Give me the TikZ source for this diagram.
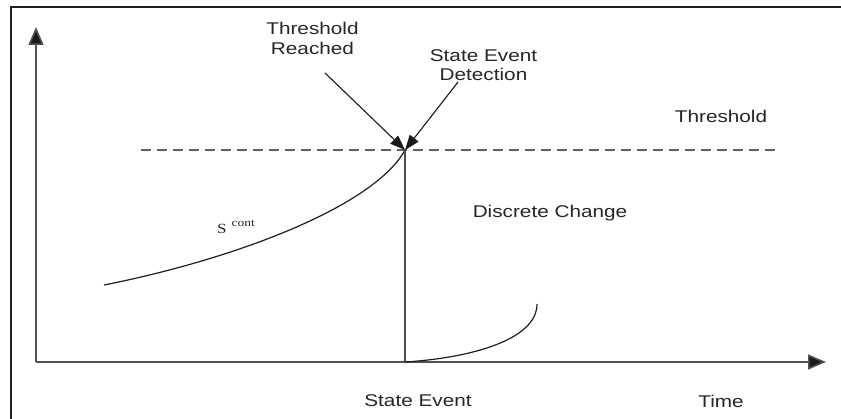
\documentclass[tikz,border=0pt]{standalone}
\usepackage{fontspec}
\setmainfont{Liberation Sans}
\newfontfamily\serifft{Liberation Serif}
\usetikzlibrary{arrows.meta}
\newcommand{\wtxt}[1]{\scalebox{1.22}[1]{#1}}
\begin{document}
\begin{tikzpicture}[x=1pt,y=-1pt,
  lbl/.style={inner sep=0pt, font=\fontsize{17}{19.5}\selectfont, text=black!85, align=center},
  frameline/.style={draw=black!88, line width=2pt},
  axisline/.style={draw=black!68, line width=1.6pt, -{Triangle[length=18pt,width=15pt,fill=black!90]}},
  curveline/.style={draw=black!88, line width=1.2pt},
  vline/.style={draw=black!70, line width=1.6pt},
  thresh/.style={draw=black!62, line width=1.3pt, dash pattern=on 10pt off 6pt},
  pointer/.style={draw=black!90, line width=1.1pt, -{Triangle[length=15pt,width=11pt]}}]
\useasboundingbox (0,0) rectangle (841,419);
% frame
\draw[frameline] (11,425) -- (11,7) -- (850,7);
% axes
\coordinate (origin) at (36,362);
\coordinate (ytip) at (36,27);
\coordinate (xtip) at (826,362);
\draw[axisline] (origin) -- (ytip);
\draw[axisline] (origin) -- (xtip);
% threshold line
\coordinate (thL) at (141,150);
\coordinate (thR) at (775,150);
\draw[thresh] (thL) -- (thR);
% key points
\coordinate (cross) at (405,150);
\coordinate (event) at (405,362);
\coordinate (scstart) at (104,285);
\coordinate (afterend) at (537,304);
% continuous state curve
\draw[curveline] (scstart) .. controls (240,258) and (375,205) .. (cross);
% discrete change
\draw[vline] (cross) -- (event);
% after-event curve
\draw[curveline] (event) .. controls (470,358) and (537,340) .. (afterend);
% labels
\node[lbl] (reached) at (312.5,38.5) {\wtxt{Threshold}\\\wtxt{Reached}};
\node[lbl] (detect) at (483.5,65) {\wtxt{State Event}\\\wtxt{Detection}};
\node[lbl] (thlabel) at (721,116) {\wtxt{Threshold}};
\node[lbl] (dchange) at (550,213) {\wtxt{Discrete Change}};
\node[lbl] (sevent) at (418,401) {\wtxt{State Event}};
\node[lbl] (time) at (721,401) {\wtxt{Time}};
\node[inner sep=0pt, text=black!85, anchor=base west] (scont) at (217,233.6)
  {\serifft\scalebox{1.22}[1]{\fontsize{14}{16}\selectfont S}\hspace{5pt}\raisebox{7.5pt}{\scalebox{1.22}[1]{\fontsize{11}{12}\selectfont cont}}};
% pointers
\coordinate (rstart) at (325,73);
\coordinate (dstart) at (458,82);
\draw[pointer] (rstart) -- (cross);
\draw[pointer] (dstart) -- (cross);
\end{tikzpicture}
\end{document}
